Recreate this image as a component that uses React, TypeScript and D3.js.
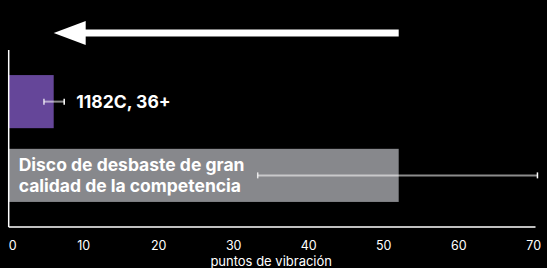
import * as d3 from "d3"

// chart data
const categories = ["1182C, 36+", "Disco de desbaste de gran calidad de la competencia"]
const labelLines = [["1182C, 36+"], ["Disco de desbaste de gran", "calidad de la competencia"]]
const values = [6.0, 52.0]
const errLow = [4.7, 33.2]
const errHigh = [7.4, 70.5]
const barColors = ["#654699", "#87888c"]
const xTicks = [0, 10, 20, 30, 40, 50, 60, 70]
const xTitle = "puntos de vibración"

const W = 547
const H = 268
const FONT = "Inter, 'Noto Sans', sans-serif"

export default function App() {
  const margin = { top: 50, right: 12, bottom: 41, left: 8.7 }

  const x = d3.scaleLinear().domain([0, 70]).range([margin.left, 533.7])
  const y = d3
    .scaleBand()
    .domain(categories)
    .range([margin.top, H - margin.bottom])
    .paddingInner(0.28)
    .paddingOuter(0.34)

  const bw = y.bandwidth()
  const axisY = H - margin.bottom

  // arrow from the competitor value back to ours
  const arrowY = 33
  const tail = x(values[1])
  const tip = x(values[0])

  return (
    <svg
      width={W}
      height={H}
      style={{ position: "absolute", left: 0, top: 0, background: "#000" }}
      fontFamily={FONT}
    >
      <rect width={W} height={H} fill="#000" />

      {/* bars */}
      {categories.map((c, i) => (
        <rect
          key={c}
          x={x(0)}
          y={y(c)}
          width={x(values[i]) - x(0)}
          height={bw}
          fill={barColors[i]}
        />
      ))}

      {/* error bars */}
      {categories.map((c, i) => {
        const cy = (y(c) || 0) + bw / 2
        return (
          <g key={c + "-err"}>
            <line x1={x(errLow[i])} x2={x(errHigh[i])} y1={cy} y2={cy} stroke="#fff" strokeOpacity={0.55} strokeWidth={2} />
            <line x1={x(errLow[i])} x2={x(errLow[i])} y1={cy - 3} y2={cy + 3} stroke="#fff" strokeOpacity={0.8} strokeWidth={1.5} />
            <line x1={x(errHigh[i])} x2={x(errHigh[i])} y1={cy - 3} y2={cy + 3} stroke="#fff" strokeWidth={1.5} />
          </g>
        )
      })}

      {/* labels */}
      {categories.map((c, i) => {
        const cy = (y(c) || 0) + bw / 2
        const inside = labelLines[i].length > 1
        const lx = inside ? x(0) + 10 : x(errHigh[i]) + 12
        const lh = 20.5
        const y0 = cy - ((labelLines[i].length - 1) * lh) / 2 + 6
        return (
          <text key={c + "-lbl"} x={lx} y={y0} fill="#fff" fontSize={17.5} fontWeight={700}>
            {labelLines[i].map((l, j) => (
              <tspan key={j} x={lx} y={y0 + j * lh}>
                {l}
              </tspan>
            ))}
          </text>
        )
      })}

      {/* axes */}
      <line x1={x(0)} x2={x(0)} y1={margin.top} y2={axisY} stroke="#fff" strokeWidth={1.5} />
      <line x1={x(0)} x2={535.5} y1={axisY} y2={axisY} stroke="#fff" strokeWidth={1.5} />
      {xTicks.map((t, i) => (
        <text
          key={t}
          x={x(t)}
          y={249.5}
          fill="#fff"
          fontSize={12.5}
          textAnchor={i === 0 ? "start" : "middle"}
        >
          {t}
        </text>
      ))}
      <text x={(x(0) + x(70)) / 2} y={266} fill="#fff" fontSize={13} textAnchor="middle">
        {xTitle}
      </text>

      {/* arrow */}
      <line x1={tail} x2={tip + 30} y1={arrowY} y2={arrowY} stroke="#fff" strokeWidth={7} />
      <path d={`M${tip},${arrowY} L${tip + 32},${arrowY - 12} L${tip + 32},${arrowY + 12} Z`} fill="#fff" />
    </svg>
  )
}
